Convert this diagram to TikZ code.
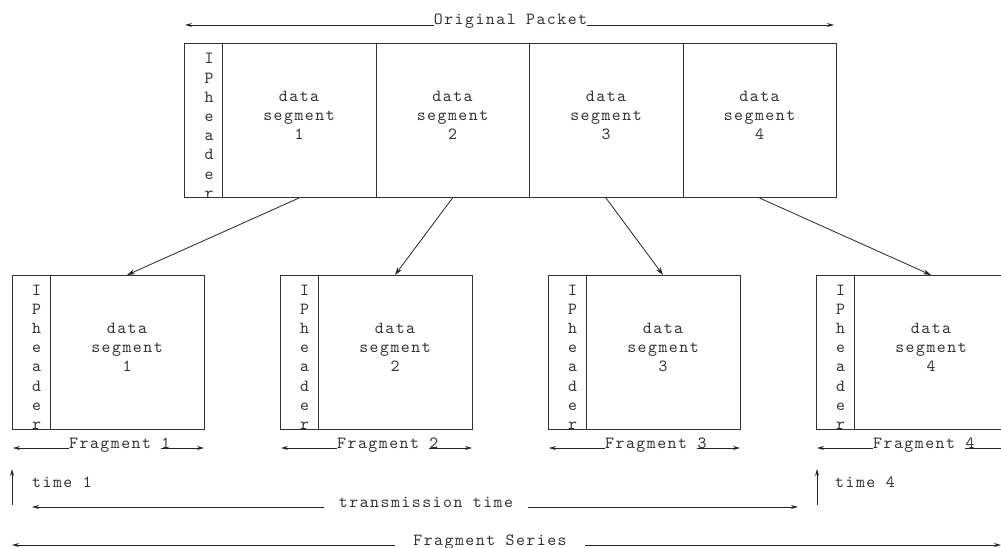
\documentclass[tikz,border=0pt]{standalone}
\usepackage{fontspec}
\setmonofont{lmmono10-regular.otf}[LetterSpace=8.8]
\usetikzlibrary{arrows.meta}
\newcommand\segtext[4]{%
  \node[txt] (#1a) at (#2,#3) {data};
  \node[txt] (#1b) at (#2,#3+19) {segment};
  \node[txt] (#1c) at (#2,#3+38) {#4};}
\newcommand\iphdr[3]{%
  \foreach \ch [count=\k from 0] in {I,P,h,e,a,d,e,r}
    \node[txt] (#1-\k) at (#2,#3+19.2*\k) {\ch};}
\begin{document}
\begin{tikzpicture}[x=1pt,y=-1pt,
  every node/.style={font=\ttfamily\fontsize{17}{19}\selectfont, text=black!80},
  txt/.style={anchor=base, inner sep=0pt},
  cell/.style={draw=black!80, line width=1pt, inner sep=0pt, outer sep=0pt, minimum height=154pt},
  arr/.style={-{Stealth[length=8pt,width=5pt]}, line width=0.8pt, draw=black!85},
  dimline/.style={line width=0.8pt, draw=black!85},
  tip/.style={-{Stealth[length=7pt,width=4pt]}}
]
\useasboundingbox (0,0) rectangle (1001,548);
\clip (0,0) rectangle (1001,548);

% ---------- original packet ----------
\node[cell, minimum width=38pt]  (oh) at (203,121) {};
\node[cell, minimum width=154pt] (o1) at (299,121) {};
\node[cell, minimum width=153pt] (o2) at (452.5,121) {};
\node[cell, minimum width=154pt] (o3) at (606,121) {};
\node[cell, minimum width=153pt] (o4) at (759.5,121) {};
\iphdr{oh}{209}{64}
\segtext{ot1}{299}{102}{1}
\segtext{ot2}{452.5}{102}{2}
\segtext{ot3}{606}{102}{3}
\segtext{ot4}{759.5}{102}{4}

% Original Packet dimension
\node[txt] (optxt) at (510.5,25) {Original Packet};
\coordinate (opL) at (185,25);
\coordinate (opR) at (834,25);
\draw[dimline,tip] (optxt.base west) -- (opL);
\draw[dimline,tip] (optxt.base east) -- (opR);

% ---------- fragments ----------
\foreach \i/\L in {1/12,2/280,3/548,4/816}{
  \node[cell, minimum width=38pt]  (f\i h) at (\L+19,352) {};
  \node[cell, minimum width=154pt] (f\i d) at (\L+115,352) {};
  \iphdr{f\i h}{\L+24.5}{295}
  \segtext{ft\i}{\L+115}{333}{\i}
  \node[txt, anchor=base west] (fl\i) at (\L+57,448) {Fragment \i};
  \coordinate (fL\i) at (\L+1,448);
  \coordinate (fR\i) at (\L+192,448);
  \draw[dimline,tip] (fl\i.base west) -- (fL\i);
  \draw[dimline,tip] ([xshift=-10pt]fl\i.base east) -- (fR\i);
}

% ---------- arrows ----------
\draw[arr] (o1.south) -- (f1d.north);
\draw[arr] (o2.south) -- (f2d.north);
\draw[arr] (o3.south) -- (f3d.north);
\draw[arr] (o4.south) -- (f4d.north);

% ---------- times ----------
\coordinate (t1b) at (12,505);
\coordinate (t1t) at (12,469);
\draw[dimline,tip] (t1b) -- (t1t);
\node[txt, anchor=base west] (t1) at (32,487) {time 1};
\coordinate (t4b) at (817,505);
\coordinate (t4t) at (817,469);
\draw[dimline,tip] (t4b) -- (t4t);
\node[txt, anchor=base west] (t4) at (835,487) {time 4};

% transmission time
\node[txt, inner xsep=15pt] (tt) at (426,507) {transmission time};
\coordinate (ttL) at (32,507);
\coordinate (ttR) at (798,507);
\draw[dimline,tip] (tt.base west) -- (ttL);
\draw[dimline,tip] (tt.base east) -- (ttR);

% fragment series
\node[txt, inner xsep=18pt] (fs) at (490,545) {Fragment Series};
\coordinate (fsL) at (12,545);
\coordinate (fsR) at (1001,545);
\draw[dimline,tip] (fs.base west) -- (fsL);
\draw[dimline,tip] (fs.base east) -- (fsR);
\end{tikzpicture}
\end{document}
